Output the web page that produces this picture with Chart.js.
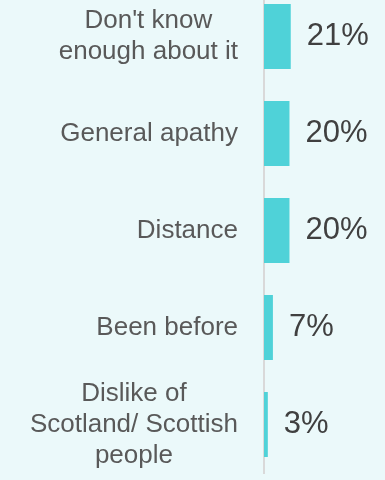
<!DOCTYPE html>
<html>
<head>
<meta charset="utf-8">
<script src="https://cdn.jsdelivr.net/npm/chart.js@4.4.0/dist/chart.umd.min.js"></script>
<style>
  html, body { margin: 0; padding: 0; background: #ebf9fa; overflow: hidden; }
  #wrap { position: absolute; left: 0; top: -12px; width: 385px; height: 492px; }
</style>
</head>
<body>
<div id="wrap"><canvas id="reasonsChart"></canvas></div>
<script>
// Reasons for not visiting, share of respondents (%)
const categories = [
    ["Don't know", 'enough about it'],
    'General apathy',
    'Distance',
    'Been before',
    ['Dislike of', 'Scotland/ Scottish', 'people']
];
const shares = [21, 20, 20, 7, 3];

const FONT = '"Liberation Sans", Arial, sans-serif';

// Category labels: each block right-aligned to the axis, lines centred within the block
const categoryLabels = {
    id: 'categoryLabels',
    afterDraw(chart) {
        const { ctx, chartArea } = chart;
        const yScale = chart.scales.y;
        const lineHeight = 31;
        ctx.save();
        ctx.font = '26px ' + FONT;
        ctx.fillStyle = '#595959';
        ctx.textAlign = 'center';
        ctx.textBaseline = 'middle';
        categories.forEach((label, i) => {
            const lines = Array.isArray(label) ? label : [label];
            const blockWidth = Math.max(...lines.map(l => ctx.measureText(l).width));
            const cx = chartArea.left - 26 - blockWidth / 2;
            const cy = yScale.getPixelForTick(i);
            lines.forEach((line, j) => {
                ctx.fillText(line, cx, cy + (j - (lines.length - 1) / 2) * lineHeight);
            });
        });
        ctx.restore();
    }
};

// Percentage next to the end of each bar
const valueLabels = {
    id: 'valueLabels',
    afterDatasetsDraw(chart) {
        const { ctx } = chart;
        const meta = chart.getDatasetMeta(0);
        ctx.save();
        ctx.font = '31px ' + FONT;
        ctx.fillStyle = '#404040';
        ctx.textAlign = 'left';
        ctx.textBaseline = 'middle';
        meta.data.forEach((bar, i) => {
            ctx.fillText(shares[i] + '%', bar.x + 16, bar.y);
        });
        ctx.restore();
    }
};

new Chart(document.getElementById('reasonsChart'), {
    type: 'bar',
    data: {
        labels: categories,
        datasets: [{
            data: shares,
            backgroundColor: '#4fd2d8',
            borderWidth: 0,
            barPercentage: 0.67,
            categoryPercentage: 1
        }]
    },
    options: {
        indexAxis: 'y',
        responsive: true,
        maintainAspectRatio: false,
        animation: false,
        layout: { padding: { left: 0, right: 0, top: 0, bottom: 7 } },
        scales: {
            x: {
                display: false,
                min: 0,
                max: 95
            },
            y: {
                grid: { display: false },
                border: { display: true, color: '#d9d9d9', width: 2 },
                ticks: { display: false },
                afterFit(scale) { scale.width = 264; }
            }
        },
        plugins: {
            legend: { display: false },
            tooltip: { enabled: false }
        }
    },
    plugins: [categoryLabels, valueLabels]
});
</script>
</body>
</html>
